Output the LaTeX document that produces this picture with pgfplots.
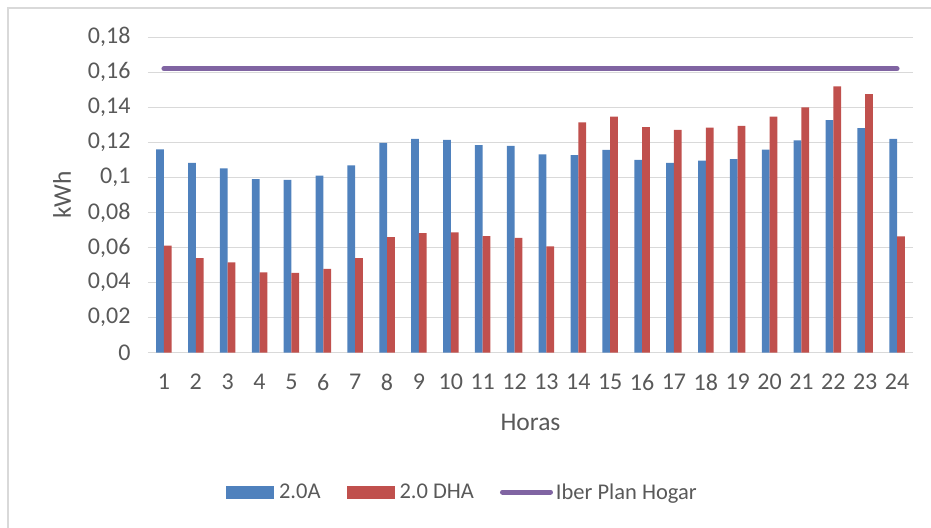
\documentclass[border=0pt]{standalone}
\usepackage{fontspec}
\setmainfont{Carlito}
\usepackage{pgfplots}
\pgfplotsset{compat=1.18}
\definecolor{serA}{HTML}{4F81BD}
\definecolor{serB}{HTML}{C0504D}
\definecolor{serC}{HTML}{8064A2}
\definecolor{txt}{HTML}{595959}
\definecolor{grd}{HTML}{D9D9D9}

\begin{document}
\begin{tikzpicture}
\begin{axis}[
  scale only axis, width=765bp, height=315.4bp,
  xmin=0.5, xmax=24.5, ymin=0, ymax=0.18,
  xtick={1,...,24},
  ytick={0,0.02,0.04,0.06,0.08,0.1,0.12,0.14,0.16,0.18},
  axis line style={draw=none}, major tick length=0pt,
  ymajorgrids, grid style={grd, line width=1.3bp},
  /pgf/number format/assume math mode=true,
  ticklabel style={font=\fontsize{24bp}{29bp}\selectfont, text=txt},
  yticklabel style={xshift=-14bp, /pgf/number format/.cd, use comma, fixed, precision=2},
  xticklabel style={yshift=-18bp},
  xlabel={Horas}, ylabel={kWh},
  label style={font=\fontsize{25.5bp}{30bp}\selectfont, text=txt},
  xlabel style={at={(axis description cs:0.5,-0.2219)}, anchor=center},
  ylabel style={at={(axis description cs:-0.1124,0.5)}, anchor=center},
  legend columns=-1,
  legend style={at={(axis description cs:0.411,-0.4417)}, anchor=center,
    draw=none, fill=none, font=\fontsize{22.5bp}{27bp}\selectfont, text=txt,
    /tikz/every even column/.append style={column sep=24bp}},
  no markers,
]
\addplot[ybar, bar width=7.8bp, bar shift=-3.9bp, fill=serA, draw=none,
  legend image code/.code={\fill[serA] (0bp,-6.5bp) rectangle (48bp,6.5bp); \path (51bp,0bp);}]
  coordinates {(1,0.1161)(2,0.1083)(3,0.1052)(4,0.0991)(5,0.0987)(6,0.1010)
  (7,0.1069)(8,0.1197)(9,0.1220)(10,0.1214)(11,0.1185)(12,0.1180)
  (13,0.1132)(14,0.1127)(15,0.1157)(16,0.1100)(17,0.1083)(18,0.1096)
  (19,0.1105)(20,0.1159)(21,0.1212)(22,0.1328)(23,0.1282)(24,0.1220)};
\addlegendentry{2.0A}
\addplot[ybar, bar width=7.8bp, bar shift=3.9bp, fill=serB, draw=none,
  legend image code/.code={\fill[serB] (0bp,-6.5bp) rectangle (48bp,6.5bp); \path (51bp,0bp);}]
  coordinates {(1,0.0611)(2,0.0540)(3,0.0516)(4,0.0459)(5,0.0455)(6,0.0478)
  (7,0.0540)(8,0.0660)(9,0.0683)(10,0.0687)(11,0.0666)(12,0.0656)
  (13,0.0607)(14,0.1315)(15,0.1347)(16,0.1288)(17,0.1271)(18,0.1284)
  (19,0.1294)(20,0.1347)(21,0.1400)(22,0.1520)(23,0.1476)(24,0.0664)};
\addlegendentry{2.0 DHA}
\addplot[serC, line width=5bp, line cap=round,
  legend image code/.code={\draw[serC, line width=5bp, line cap=round] (2bp,0bp) -- (50bp,0bp); \path (51bp,0bp);}]
  coordinates {(1,0.1621)(24,0.1621)};
\addlegendentry{Iber Plan Hogar}
\end{axis}
\draw[grd, line width=1.5bp] (-140bp,-175.3bp) -- (-140bp,344.7bp) -- (783bp,344.7bp);
\pgfresetboundingbox
\path[use as bounding box] (-148bp,-175.3bp) rectangle (783bp,352.7bp);
\end{tikzpicture}
\end{document}
